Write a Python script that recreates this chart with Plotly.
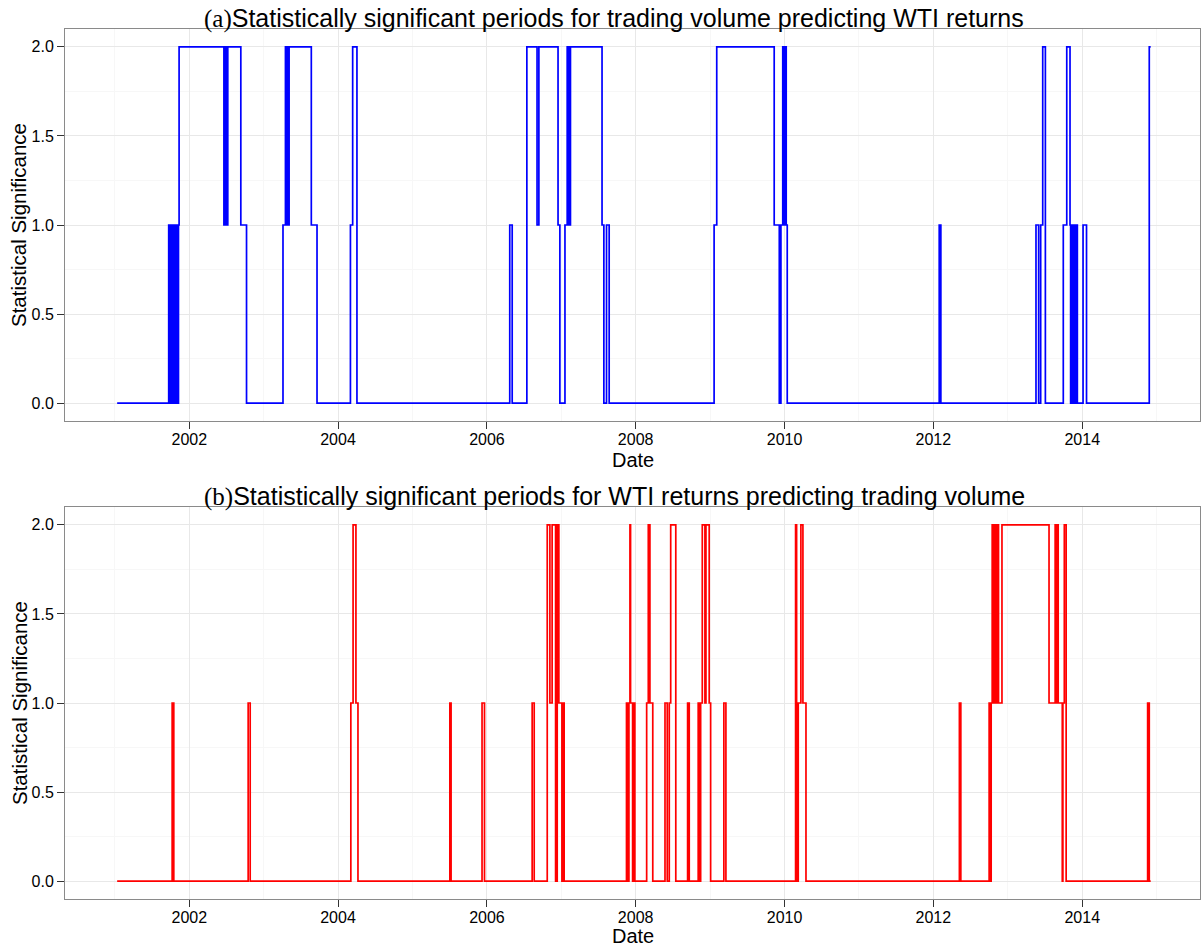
import plotly.graph_objects as go

# ---------------- data (change points of the step series) ----------------
a_dates = [
    "2001-01-12", "2001-09-22", "2001-09-28", "2001-10-03", "2001-10-09", "2001-10-13",
    "2001-10-18", "2001-10-24", "2001-10-29", "2001-11-03", "2001-11-06", "2001-11-09",
    "2001-11-12", "2002-06-20", "2002-06-24", "2002-06-27", "2002-07-01", "2002-07-04",
    "2002-07-09", "2002-09-11", "2002-10-09", "2003-04-06", "2003-04-18", "2003-04-23",
    "2003-04-27", "2003-05-02", "2003-05-06", "2003-08-23", "2003-09-20", "2004-03-02",
    "2004-03-13", "2004-04-03", "2006-04-23", "2006-05-05", "2006-07-16", "2006-09-04",
    "2006-09-13", "2006-12-16", "2006-12-25", "2007-01-19", "2007-01-30", "2007-02-03",
    "2007-02-07", "2007-02-11", "2007-02-15", "2007-07-20", "2007-07-29", "2007-08-11",
    "2007-08-24", "2009-01-20", "2009-02-02", "2009-11-11", "2009-12-06", "2009-12-14",
    "2009-12-23", "2009-12-29", "2010-01-03", "2010-01-09", "2010-01-14", "2012-01-30",
    "2012-02-07", "2013-05-19", "2013-06-01", "2013-06-11", "2013-06-21", "2013-07-04",
    "2013-09-30", "2013-10-17", "2013-11-02", "2013-11-05", "2013-11-08", "2013-11-12",
    "2013-11-15", "2013-11-19", "2013-11-23", "2013-11-27", "2013-12-02", "2013-12-08",
    "2014-01-05", "2014-01-22", "2014-11-26", "2014-12-03",
]
a_vals = [
    0, 1, 0, 1, 0, 1,
    0, 1, 0, 1, 0, 1,
    2, 1, 2, 1, 2, 1,
    2, 1, 0, 1, 2, 1,
    2, 1, 2, 1, 0, 1,
    2, 0, 1, 0, 2, 1,
    2, 1, 0, 1, 2, 1,
    2, 1, 2, 1, 0, 1,
    0, 1, 2, 1, 0, 1,
    2, 1, 2, 1, 0, 1,
    0, 1, 0, 1, 2, 0,
    1, 2, 1, 0, 1, 0,
    1, 0, 1, 0, 1, 0,
    1, 0, 2, 2,
]

b_dates = [
    "2001-01-12", "2001-10-09", "2001-10-17", "2002-10-17", "2002-10-27", "2004-03-04",
    "2004-03-15", "2004-03-29", "2004-04-08", "2005-07-03", "2005-07-09", "2005-12-08",
    "2005-12-20", "2006-08-11", "2006-08-21", "2006-10-24", "2006-11-06", "2006-11-17",
    "2006-12-04", "2006-12-12", "2006-12-20", "2007-01-04", "2007-01-09", "2007-01-15",
    "2007-11-17", "2007-11-24", "2007-11-29", "2007-12-04", "2007-12-07", "2007-12-17",
    "2007-12-22", "2007-12-28", "2008-02-24", "2008-03-03", "2008-03-11", "2008-03-25",
    "2008-05-24", "2008-06-04", "2008-06-14", "2008-06-21", "2008-07-16", "2008-09-12",
    "2008-09-20", "2008-11-03", "2008-11-11", "2008-11-15", "2008-11-23", "2008-12-06",
    "2008-12-11", "2008-12-27", "2009-01-03", "2009-03-09", "2009-03-19", "2010-02-24",
    "2010-03-01", "2010-03-04", "2010-03-09", "2010-03-22", "2010-04-01", "2010-04-16",
    "2012-05-08", "2012-05-15", "2012-10-01", "2012-10-07", "2012-10-11", "2012-10-16",
    "2012-10-22", "2012-10-27", "2012-11-04", "2012-11-11", "2012-11-16", "2012-12-03",
    "2013-07-22", "2013-08-21", "2013-08-25", "2013-08-28", "2013-09-05", "2013-09-25",
    "2013-09-28", "2013-10-05", "2013-10-14", "2014-11-18", "2014-11-26", "2014-12-03",
]
b_vals = [
    0, 1, 0, 1, 0, 1,
    2, 1, 0, 1, 0, 1,
    0, 1, 0, 2, 1, 2,
    0, 2, 1, 0, 1, 0,
    1, 0, 1, 2, 1, 0,
    1, 0, 1, 2, 1, 0,
    1, 0, 1, 2, 0, 1,
    0, 1, 0, 1, 2, 1,
    2, 1, 0, 1, 0, 2,
    1, 0, 1, 2, 1, 0,
    1, 0, 1, 0, 1, 2,
    1, 2, 1, 2, 1, 2,
    1, 2, 1, 2, 1, 0,
    1, 2, 0, 1, 0, 0,
]

x_tick_years = ["2002", "2004", "2006", "2008", "2010", "2012", "2014"]
x_minor_years = ["2001", "2003", "2005", "2007", "2009", "2011", "2013", "2015"]
y_ticks = [0.0, 0.5, 1.0, 1.5, 2.0]
y_tick_text = ["0.0", "0.5", "1.0", "1.5", "2.0"]
y_minor = [0.25, 0.75, 1.25, 1.75]

title_a = "Statistically significant periods for trading volume predicting WTI returns"
title_b = "Statistically significant periods for WTI returns predicting trading volume"

# ---------------- figure ----------------
SANS = "Liberation Sans, Arial, Helvetica, sans-serif"
W, H = 1204, 949
ML, MR, MT, MB = 65, 4, 29, 50
PW, PH = W - ML - MR, H - MT - MB


def px(x):
    return (x - ML) / PW


def py(y):
    return (H - MB - y) / PH


fig = go.Figure()
fig.add_trace(go.Scatter(x=a_dates, y=a_vals, mode="lines", line=dict(color="#0000FF", width=1.7, shape="hv"),
                         xaxis="x", yaxis="y", showlegend=False, hoverinfo="skip"))
fig.add_trace(go.Scatter(x=b_dates, y=b_vals, mode="lines", line=dict(color="#FF0000", width=1.7, shape="hv"),
                         xaxis="x2", yaxis="y2", showlegend=False, hoverinfo="skip"))

xa = dict(
    type="date", range=["2000-05-01", "2015-08-02"],
    tickvals=[y + "-01-01" for y in x_tick_years], ticktext=x_tick_years,
    minor=dict(tickvals=[y + "-01-01" for y in x_minor_years], showgrid=True, gridcolor="#f7f7f7",
               gridwidth=1, ticks=""),
    showgrid=True, gridcolor="#e8e8e8", gridwidth=1,
    showline=True, linecolor="#8a8a8a", linewidth=1, mirror=True,
    ticks="outside", ticklen=7, tickwidth=1, tickcolor="#333333",
    tickfont=dict(family=SANS, size=16, color="#000000"),
    ticklabelstandoff=-3,
    zeroline=False, fixedrange=True,
)
ya = dict(
    range=[-0.1, 2.1], tickvals=y_ticks, ticktext=y_tick_text,
    minor=dict(tickvals=y_minor, showgrid=True, gridcolor="#f7f7f7", gridwidth=1, ticks=""),
    showgrid=True, gridcolor="#e8e8e8", gridwidth=1,
    showline=True, linecolor="#8a8a8a", linewidth=1, mirror=True,
    ticks="outside", ticklen=7, tickwidth=1, tickcolor="#333333",
    tickfont=dict(family=SANS, size=16, color="#000000"),
    zeroline=False, fixedrange=True,
)

top_dom = [py(421), 1.0]
bot_dom = [0.0, py(507)]

fig.update_layout(
    width=W, height=H,
    margin=dict(l=ML, r=MR, t=MT, b=MB),
    paper_bgcolor="white", plot_bgcolor="white",
    xaxis=dict(xa, domain=[0, 1], anchor="y"),
    yaxis=dict(ya, domain=top_dom, anchor="x"),
    xaxis2=dict(xa, domain=[0, 1], anchor="y2"),
    yaxis2=dict(ya, domain=bot_dom, anchor="x2"),
    font=dict(family=SANS, color="#000000"),
)

serif = "font-family:'Liberation Serif','DejaVu Serif',serif"
ann = []
for label, ybase in (("a", 18.5), ("b", 496.8)):
    txt = title_a if label == "a" else title_b
    ann.append(dict(
        text=f"<span style=\"{serif}\">({label})</span>{txt}",
        x=px(201.7), y=py(ybase), xref="paper", yref="paper",
        xanchor="left", yanchor="middle", showarrow=False,
        font=dict(family=SANS, size=25, color="#000000"),
    ))
for yc in (460, 936):
    ann.append(dict(text="Date", x=0.5, y=py(yc), xref="paper", yref="paper",
                    xanchor="center", yanchor="middle", showarrow=False,
                    font=dict(family=SANS, size=20, color="#000000")))
for yc in (225, 703):
    ann.append(dict(text="Statistical Significance", x=px(19), y=py(yc), xref="paper", yref="paper",
                    xanchor="center", yanchor="middle", showarrow=False, textangle=-90,
                    font=dict(family=SANS, size=20.5, color="#000000")))
fig.update_layout(annotations=ann)

fig.write_html("out.html", config={"displayModeBar": False})
